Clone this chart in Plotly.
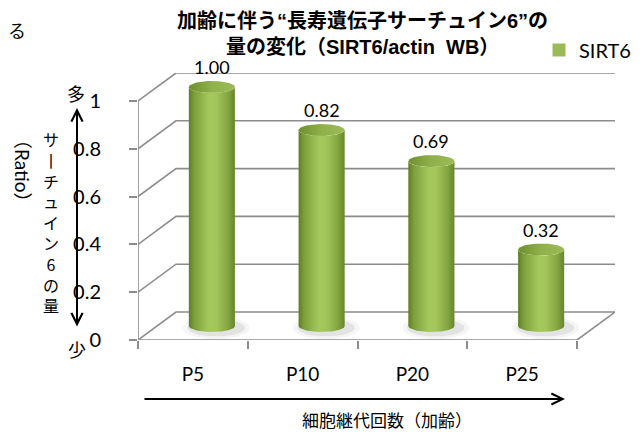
import numpy as np
import plotly.graph_objects as go

# ---- data ----
categories = ["P5", "P10", "P20", "P25"]
values = [1.00, 0.82, 0.69, 0.32]
value_labels = ["1.00", "0.82", "0.69", "0.32"]
y_ticks = [0, 0.2, 0.4, 0.6, 0.8, 1.0]
y_ticktext = ["0", "0.2", "0.4", "0.6", "0.8", "1"]
series_name = "SIRT6"

# ---- layout geometry (screen pixels; page body adds an 8px offset) ----
W, H = 643, 432
OFF = 8
PL, PR, PT, PB = 138, 615, 73, 340   # plot area on screen
DX = 0.346      # depth offset in category units
DY = 0.117      # depth offset in value units
A = 0.21        # cylinder half width (category units)
EB = 0.025      # ellipse half height (value units)

GRID = "#8c8c8c"
LATIN = "Lato, Noto Sans CJK JP, sans-serif"
JP = "Noto Sans CJK JP, sans-serif"
JPB = "Liberation Sans, Noto Sans CJK JP, sans-serif"

pw, ph = PR - PL, PB - PT
def px(x):
    return (x - PL) / pw
def py(y):
    return (PB - y) / ph

n = len(categories)
x_lo, x_hi = -0.5, n - 0.5

fig = go.Figure()

# 3D frame: walls gridlines
for v in y_ticks:
    fig.add_trace(go.Scatter(
        x=[x_lo, x_lo + DX, x_hi + DX], y=[v, v + DY, v + DY],
        mode="lines", line=dict(color=GRID, width=1.6),
        hoverinfo="skip", showlegend=False))
fig.add_trace(go.Scatter(x=[x_lo, x_lo], y=[0, max(y_ticks)], mode="lines",
                         line=dict(color=GRID, width=1.6), hoverinfo="skip", showlegend=False))
fig.add_trace(go.Scatter(x=[x_lo, x_hi, x_hi + DX], y=[0, 0, DY], mode="lines",
                         line=dict(color=GRID, width=1.6), hoverinfo="skip", showlegend=False))

t_low = np.linspace(np.pi, 2 * np.pi, 40)
t_full = np.linspace(0, 2 * np.pi, 80)
y0 = DY / 2
for i, v in enumerate(values):
    xc = i + DX / 2
    yt = v + DY / 2
    # soft shadow
    for sa, sb, al in [(1.45, 1.9, 0.05), (1.25, 1.45, 0.09)]:
        fig.add_trace(go.Scatter(
            x=xc + 0.04 + A * sa * np.cos(t_full), y=y0 - EB * 0.3 + EB * sb * np.sin(t_full),
            mode="lines", fill="toself", fillcolor=f"rgba(60,60,60,{al})",
            line=dict(width=0), hoverinfo="skip", showlegend=False))
    # body
    bx = np.concatenate([[xc - A, xc - A], xc + A * np.cos(t_low), [xc + A],
                         xc + A * np.cos(t_low[::-1])])
    by = np.concatenate([[y0, yt], yt + EB * np.sin(t_low), [y0],
                         y0 + EB * np.sin(t_low[::-1])])
    fig.add_trace(go.Scatter(
        x=bx, y=by, mode="lines", fill="toself", line=dict(width=0),
        fillgradient=dict(type="horizontal", colorscale=[
            [0, "#5f7d26"], [0.12, "#7e9f3b"], [0.45, "#a6c95e"], [0.6, "#a3c55b"],
            [0.85, "#84a540"], [1, "#66862a"]]),
        hoverinfo="skip", showlegend=False))
    # top ellipse
    fig.add_trace(go.Scatter(
        x=xc + A * np.cos(t_full), y=yt + EB * np.sin(t_full), mode="lines",
        fill="toself", line=dict(width=0),
        fillgradient=dict(type="horizontal", colorscale=[
            [0, "#6f8f30"], [0.5, "#8fb04b"], [1, "#9bbb58"]]),
        hoverinfo="skip", showlegend=False))

# legend entry
fig.add_trace(go.Scatter(x=[None], y=[None], mode="markers", name=series_name,
                         marker=dict(symbol="square", size=13, color="#9bbb59")))

def note(xs, ys, text, font, **kw):
    d = dict(x=px(xs), y=py(ys), xref="paper", yref="paper", text=text, showarrow=False,
             xanchor="center", yanchor="middle", font=font)
    d.update(kw)
    return d

annotations = []
for i, (v, lab) in enumerate(zip(values, value_labels)):
    annotations.append(dict(x=i + DX / 2, y=v + DY / 2, xref="x", yref="y", text=lab,
                            showarrow=False, yshift=20, xanchor="center", yanchor="middle",
                            font=dict(family=LATIN, size=18, color="#000")))

annotations += [
    note(362, 21, "<b>加齢に伴う“長寿遺伝子サーチュイン6”の</b>", dict(family=JPB, size=20, color="#000")),
    note(362, 47, "<b>量の変化（SIRT6/actin  WB）</b>", dict(family=JPB, size=20, color="#000")),
    note(17, 30, "る", dict(family=JP, size=18, color="#000")),
    note(76, 93, "多", dict(family=JP, size=18, color="#000")),
    note(77, 349, "少", dict(family=JP, size=18, color="#000")),
    note(51, 222, "サ<br>丨<br>チ<br>ュ<br>イ<br>ン<br>6<br>の<br>量", dict(family=JP, size=16, color="#000")),
    note(23, 171, "（Ratio）", dict(family=LATIN, size=19, color="#000"), textangle=90),
    # vertical double arrow
    dict(x=px(77), y=py(108), xref="paper", yref="paper", ax=0, ay=328 - 108,
         axref="pixel", ayref="pixel", text="", showarrow=True, arrowhead=5,
         startarrowhead=5, arrowside="end+start", arrowwidth=2, arrowsize=1.1,
         startarrowsize=1.1, arrowcolor="#000"),
    # horizontal arrow
    dict(x=px(565), y=py(399), xref="paper", yref="paper", ax=143 - 565, ay=0,
         axref="pixel", ayref="pixel", text="", showarrow=True, arrowhead=5,
         arrowwidth=2, arrowsize=1.1, arrowcolor="#000"),
    note(387, 419, "細胞継代回数（加齢）", dict(family=JP, size=17, color="#000")),
]

fig.update_layout(
    width=W, height=H,
    margin=dict(l=PL - OFF, r=W - (PR - OFF), t=PT - OFF, b=H - (PB - OFF), pad=0),
    paper_bgcolor="white", plot_bgcolor="white",
    showlegend=True,
    legend=dict(x=px(539), y=py(50), xanchor="left", yanchor="middle",
                font=dict(family=LATIN, size=20, color="#000"), bgcolor="rgba(0,0,0,0)",
                itemwidth=30),
    xaxis=dict(range=[x_lo, x_hi + DX], showgrid=False, zeroline=False, showline=False,
               tickmode="array", tickvals=list(range(n)), ticktext=categories, ticks="",
               ticklabelstandoff=21, tickfont=dict(family=LATIN, size=19, color="#000"),
               minor=dict(tickmode="array", tickvals=[k - 0.5 for k in range(n + 1)],
                          ticks="outside", ticklen=8, tickwidth=1.6, tickcolor=GRID),
               fixedrange=True),
    yaxis=dict(range=[0, max(y_ticks) + DY], showgrid=False, zeroline=False, showline=False,
               tickmode="array", tickvals=y_ticks, ticktext=y_ticktext, ticks="outside",
               ticklen=8, tickwidth=1.6, tickcolor=GRID, ticklabelstandoff=24,
               tickfont=dict(family=LATIN, size=20, color="#000"), fixedrange=True),
    annotations=annotations,
)

fig.write_html("out.html")
